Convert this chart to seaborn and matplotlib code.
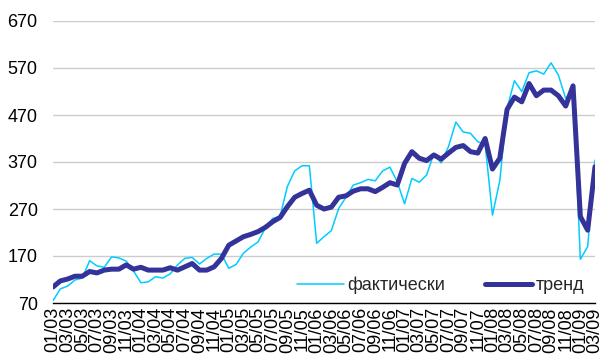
import matplotlib
matplotlib.use("Agg")
import matplotlib.pyplot as plt
import seaborn as sns
import pandas as pd

# Monthly observations, January 2003 to March 2009
actual = [75, 100, 106, 119, 123, 160, 149, 146, 168, 166, 159, 138, 113, 115, 126,
          123, 132, 151, 165, 167, 153, 165, 174, 174, 144, 152, 176, 189, 200, 230,
          250, 254, 318, 351, 362, 362, 197, 211, 224, 271, 295, 321, 326, 333, 330,
          351, 359, 328, 281, 335, 327, 342, 388, 368, 403, 455, 434, 431, 413, 408,
          257, 330, 485, 543, 520, 560, 564, 557, 581, 555, 505, 528, 163, 190, 374]

trend = [104, 117, 121, 127, 127, 137, 134, 140, 142, 142, 151, 142, 146, 140, 140,
         140, 145, 140, 147, 154, 140, 140, 147, 165, 193, 202, 211, 216, 222, 231,
         243, 252, 275, 295, 303, 310, 278, 270, 274, 295, 298, 308, 313, 313, 307,
         316, 326, 321, 367, 392, 378, 373, 385, 376, 389, 401, 405, 392, 389, 420,
         355, 378, 482, 508, 498, 537, 511, 523, 523, 511, 489, 532, 254, 225, 360]

tick_labels = ["01/03", "03/03", "05/03", "07/03", "09/03", "11/03",
               "01/04", "03/04", "05/04", "07/04", "09/04", "11/04",
               "01/05", "03/05", "05/05", "07/05", "09/05", "11/05",
               "01/06", "03/06", "05/06", "07/06", "09/06", "11/06",
               "01/07", "03/07", "05/07", "07/07", "09/07", "11/07",
               "01/08", "03/08", "05/08", "07/08", "09/08", "11/08",
               "01/09", "03/09"]

y_ticks = [70, 170, 270, 370, 470, 570, 670]

series_names = ["фактически", "тренд"]

sns.set_theme(style="white")
plt.rcParams["font.family"] = ["Liberation Sans", "DejaVu Sans"]

df = pd.DataFrame({"month": range(len(actual)), "actual": actual, "trend": trend})

fig = plt.figure(figsize=(6.01, 3.6), dpi=100)
ax = fig.add_axes([53 / 601, 1 - 303 / 360, (595 - 53) / 601, (303 - 21) / 360])

sns.lineplot(data=df, x="month", y="actual", ax=ax, color="#00CCFF",
             linewidth=1.1, label=series_names[0])
sns.lineplot(data=df, x="month", y="trend", ax=ax, color="#333399",
             linewidth=3.6, label=series_names[1])

ax.set_xlim(0, len(actual) - 1)
ax.set_ylim(y_ticks[0], y_ticks[-1])
ax.set_yticks(y_ticks)
ax.set_yticklabels([str(v) for v in y_ticks], fontsize=13)
ax.set_xticks(range(0, len(actual), 2))
ax.set_xticklabels(tick_labels, rotation=90, fontsize=13, ha="center", va="top")
ax.tick_params(axis="y", length=0, pad=11, colors="black")
ax.tick_params(axis="x", length=0, pad=3, colors="black")
ax.set_xlabel("")
ax.set_ylabel("")

ax.yaxis.grid(True, color="#CCCCCC", linewidth=1.0)
ax.xaxis.grid(False)
ax.set_axisbelow(True)
for side in ["left", "right", "top"]:
    ax.spines[side].set_visible(False)
ax.spines["bottom"].set_color("black")
ax.spines["bottom"].set_linewidth(1.0)
ax.spines["bottom"].set_zorder(5)

ax.legend(loc="center right", bbox_to_anchor=(0.972, 0.208),
          bbox_transform=fig.transFigure, ncol=2, frameon=False,
          fontsize=13, handlelength=2.6, handletextpad=0.2,
          columnspacing=2.2, borderpad=0, borderaxespad=0)

fig.savefig("out.png", dpi=100)
